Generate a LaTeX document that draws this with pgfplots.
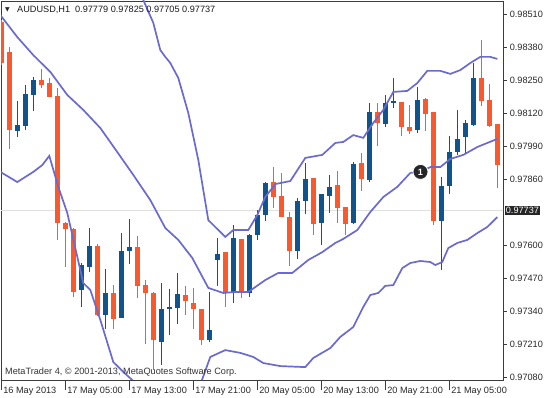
\documentclass[border=0pt]{standalone}
\usepackage{fontspec}
\setmainfont{Liberation Sans}
\newfontfamily\dejavu{DejaVu Sans}
\usepackage{pgfplots}
\usepackage{pgfplotstable}
\pgfplotsset{compat=1.18}
\definecolor{bull}{RGB}{17,84,140}
\definecolor{bear}{RGB}{250,88,45}
\definecolor{band}{RGB}{106,106,208}
\definecolor{frame}{RGB}{60,60,60}

\pgfplotstableread{
i o h l c
2 0.98049 0.98167 0.98027 0.98073
3 0.98069 0.98230 0.98053 0.98194
4 0.98191 0.98261 0.98129 0.98249
10 0.97423 0.97528 0.97355 0.97521
11 0.97512 0.97668 0.97492 0.97597
13 0.97324 0.97508 0.97272 0.97412
15 0.97311 0.97646 0.97311 0.97578
16 0.97576 0.97705 0.97528 0.97593
20 0.97217 0.97452 0.97127 0.97347
21 0.97347 0.97429 0.97248 0.97357
22 0.97351 0.97491 0.97288 0.97407
26 0.97226 0.97416 0.97219 0.97265
27 0.97541 0.97630 0.97439 0.97565
29 0.97416 0.97679 0.97373 0.97630
31 0.97412 0.97646 0.97396 0.97639
32 0.97639 0.97738 0.97622 0.97718
33 0.97718 0.97849 0.97698 0.97843
37 0.97578 0.97786 0.97544 0.97775
38 0.97773 0.97924 0.97722 0.97860
40 0.97688 0.97800 0.97600 0.97800
41 0.97793 0.97876 0.97725 0.97830
44 0.97686 0.97928 0.97683 0.97922
46 0.97856 0.98158 0.97849 0.98125
48 0.98077 0.98191 0.98066 0.98161
49 0.98161 0.98257 0.98139 0.98169
52 0.98053 0.98221 0.98042 0.98174
55 0.97695 0.97869 0.97504 0.97834
56 0.97834 0.98029 0.97801 0.97968
57 0.97968 0.98132 0.97955 0.98020
58 0.98027 0.98092 0.97961 0.98079
59 0.98073 0.98316 0.98069 0.98257
}\bulltab

\pgfplotstableread{
i o h l c
0 0.98478 0.98486 0.98309 0.98317
1 0.98361 0.98381 0.97981 0.98053
5 0.98250 0.98293 0.98220 0.98230
6 0.98237 0.98257 0.98182 0.98184
7 0.98187 0.98217 0.97622 0.97688
8 0.97688 0.97691 0.97515 0.97662
9 0.97664 0.97667 0.97396 0.97416
12 0.97597 0.97603 0.97320 0.97324
14 0.97412 0.97442 0.97272 0.97311
17 0.97593 0.97637 0.97392 0.97439
18 0.97442 0.97462 0.97210 0.97410
19 0.97412 0.97416 0.97108 0.97226
23 0.97403 0.97439 0.97327 0.97379
24 0.97373 0.97433 0.97272 0.97347
25 0.97349 0.97349 0.97206 0.97226
28 0.97571 0.97571 0.97357 0.97416
30 0.97625 0.97625 0.97392 0.97412
34 0.97849 0.97908 0.97749 0.97790
35 0.97793 0.97886 0.97709 0.97709
36 0.97711 0.97731 0.97518 0.97578
39 0.97865 0.97865 0.97642 0.97683
42 0.97836 0.97893 0.97686 0.97745
43 0.97749 0.97749 0.97639 0.97683
45 0.97924 0.97965 0.97813 0.97860
47 0.98123 0.98158 0.97991 0.98082
50 0.98165 0.98165 0.98029 0.98066
51 0.98066 0.98154 0.98040 0.98050
53 0.98174 0.98178 0.98050 0.98116
54 0.98123 0.98125 0.97679 0.97695
60 0.98257 0.98408 0.98148 0.98169
61 0.98171 0.98237 0.98066 0.98070
62 0.98076 0.98076 0.97827 0.97915
}\beartab

\pgfplotstableread{
x y
17.4 0.98620
17.75 0.98565
19.0 0.98475
19.875 0.98368
20.5 0.98341
21.125 0.98317
22.125 0.98258
23.375 0.98120
24.625 0.97935
25.875 0.97698
28.0 0.97632
29.0 0.97659
30.875 0.97659
32.0 0.97718
33.0 0.97789
34.25 0.97840
36.125 0.97852
38.0 0.97943
40.125 0.97955
41.75 0.98002
42.75 0.98006
44.0 0.98033
45.25 0.98022
46.5 0.98081
47.75 0.98132
49.0 0.98203
50.75 0.98207
52.0 0.98238
53.25 0.98286
54.875 0.98286
56.125 0.98274
57.375 0.98289
58.625 0.98317
59.875 0.98341
61.125 0.98341
62.0 0.98333
}\bandU

\pgfplotstableread{
x y
-0.125 0.98506
2.0 0.98419
4.0 0.98348
6.125 0.98282
8.25 0.98191
10.25 0.98132
12.375 0.98061
14.5 0.97966
16.5 0.97876
18.625 0.97777
20.5 0.97667
22.125 0.97620
23.875 0.97549
25.875 0.97431
27.75 0.97411
29.25 0.97415
30.875 0.97415
33.0 0.97462
34.625 0.97490
36.375 0.97490
38.375 0.97541
40.125 0.97572
41.75 0.97608
42.75 0.97624
44.5 0.97659
46.125 0.97730
47.75 0.97789
49.5 0.97829
51.125 0.97884
52.375 0.97888
53.625 0.97907
54.875 0.97907
56.125 0.97939
57.75 0.97955
59.5 0.97986
60.75 0.98002
62.0 0.98018
}\bandM

\pgfplotstableread{
x y
-0.125 0.97888
2.0 0.97848
4.0 0.97888
5.125 0.97915
6.0 0.97951
7.125 0.97829
8.25 0.97726
10.25 0.97450
11.125 0.97423
12.375 0.97305
14.0 0.97139
15.25 0.97100
17.0 0.97050
24.875 0.97050
26.125 0.97159
28.0 0.97186
29.875 0.97175
31.5 0.97159
32.75 0.97135
34.875 0.97123
38.0 0.97119
39.0 0.97155
41.125 0.97194
42.375 0.97238
44.0 0.97277
45.25 0.97356
46.125 0.97403
47.125 0.97411
48.0 0.97439
49.0 0.97442
50.125 0.97509
51.125 0.97529
52.375 0.97537
53.625 0.97533
54.25 0.97521
55.125 0.97533
55.875 0.97588
57.0 0.97608
58.25 0.97620
59.5 0.97647
60.75 0.97671
62.0 0.97710
}\bandL

\newcommand\mtfont{\fontsize{9.2pt}{11pt}\selectfont}

\begin{document}
\begin{tikzpicture}
\begin{axis}[
  at={(1bp,18bp)}, anchor=south west,
  scale only axis, width=502bp, height=379bp,
  xmin=-0.0375, xmax=62.7125, ymin=0.970682, ymax=0.985612,
  axis line style={frame, line width=0.8bp},
  clip mode=individual,
  xtick={0,8,...,56},
  xticklabels={{16 May 2013},{17 May 05:00},{17 May 13:00},{17 May 21:00},{20 May 05:00},{20 May 13:00},{20 May 21:00},{21 May 05:00}},
  ytick={0.97080,0.97210,0.97340,0.97470,0.97600,0.97860,0.97990,0.98120,0.98250,0.98380,0.98510},
  yticklabels={0.97080,0.97210,0.97340,0.97470,0.97600,0.97860,0.97990,0.98120,0.98250,0.98380,0.98510},
  xtick pos=lower, xticklabel pos=lower,
  ytick pos=right, yticklabel pos=right,
  tick align=outside,
  xtick style={frame, line width=0.8bp, /pgfplots/major tick length=10bp},
  ytick style={frame, line width=0.8bp, /pgfplots/major tick length=4bp},
  ticklabel style={font=\mtfont, text=black!85},
  xticklabel style={anchor=north west, xshift=-1.5bp, yshift=1bp},
  yticklabel style={xshift=-1bp},
  candle/.style={draw=none, no markers, error bars/.cd, y dir=both, y explicit, error mark=none},
]
% current price line
\addplot[black!12, line width=1bp] coordinates {(-1,0.97737) (64,0.97737)};
% wicks
\addplot[candle, error bar style={draw=bull, line width=1bp}]
  table[x=i, y expr={(\thisrow{h}+\thisrow{l})/2}, y error expr={(\thisrow{h}-\thisrow{l})/2}] {\bulltab};
\addplot[candle, error bar style={draw=bear, line width=1bp}]
  table[x=i, y expr={(\thisrow{h}+\thisrow{l})/2}, y error expr={(\thisrow{h}-\thisrow{l})/2}] {\beartab};
% bodies
\addplot[candle, error bar style={draw=bull, line width=5.6bp}]
  table[x=i, y expr={(\thisrow{o}+\thisrow{c})/2}, y error expr={abs(\thisrow{o}-\thisrow{c})/2}] {\bulltab};
\addplot[candle, error bar style={draw=bear, line width=5.6bp}]
  table[x=i, y expr={(\thisrow{o}+\thisrow{c})/2}, y error expr={abs(\thisrow{o}-\thisrow{c})/2}] {\beartab};
% Bollinger bands
\addplot[band, line width=1.7bp] table[x=x,y=y] {\bandU};
\addplot[band, line width=1.7bp] table[x=x,y=y] {\bandM};
\addplot[band, line width=1.7bp] table[x=x,y=y] {\bandL};
% marker 1
\addplot[only marks, mark=*, mark size=7.5bp, mark options={fill=black!85, draw=white, line width=0.8bp}] coordinates {(52.4,0.97888)};
\node[text=white, font=\mtfont\bfseries] at (axis cs:52.4,0.97888) {1};
% header
\node[anchor=center, font=\dejavu\fontsize{6pt}{7pt}\selectfont, text=black!85] at (rel axis cs:0,1) [xshift=6.5bp, yshift=-9bp] {▼};
\node[anchor=west, inner sep=0pt, font=\mtfont, text=black!90] at (rel axis cs:0,1) [xshift=16bp, yshift=-9bp] {AUDUSD,H1\hspace{5bp}0.97779 0.97825 0.97705 0.97737};
% footer
\node[anchor=west, inner sep=0pt, font=\mtfont, text=black!80] at (rel axis cs:0,0) [xshift=4bp, yshift=7.5bp] {MetaTrader 4, © 2001-2013, MetaQuotes Software Corp.};
% price box
\node[anchor=west, fill=black!85, text=white, inner sep=1.2bp, font=\mtfont] at (axis cs:62.7125,0.97737) [xshift=1.5bp] {0.97737};
\end{axis}
\pgfresetboundingbox
\path (0,0) rectangle (547bp,398bp);
\end{tikzpicture}
\end{document}
